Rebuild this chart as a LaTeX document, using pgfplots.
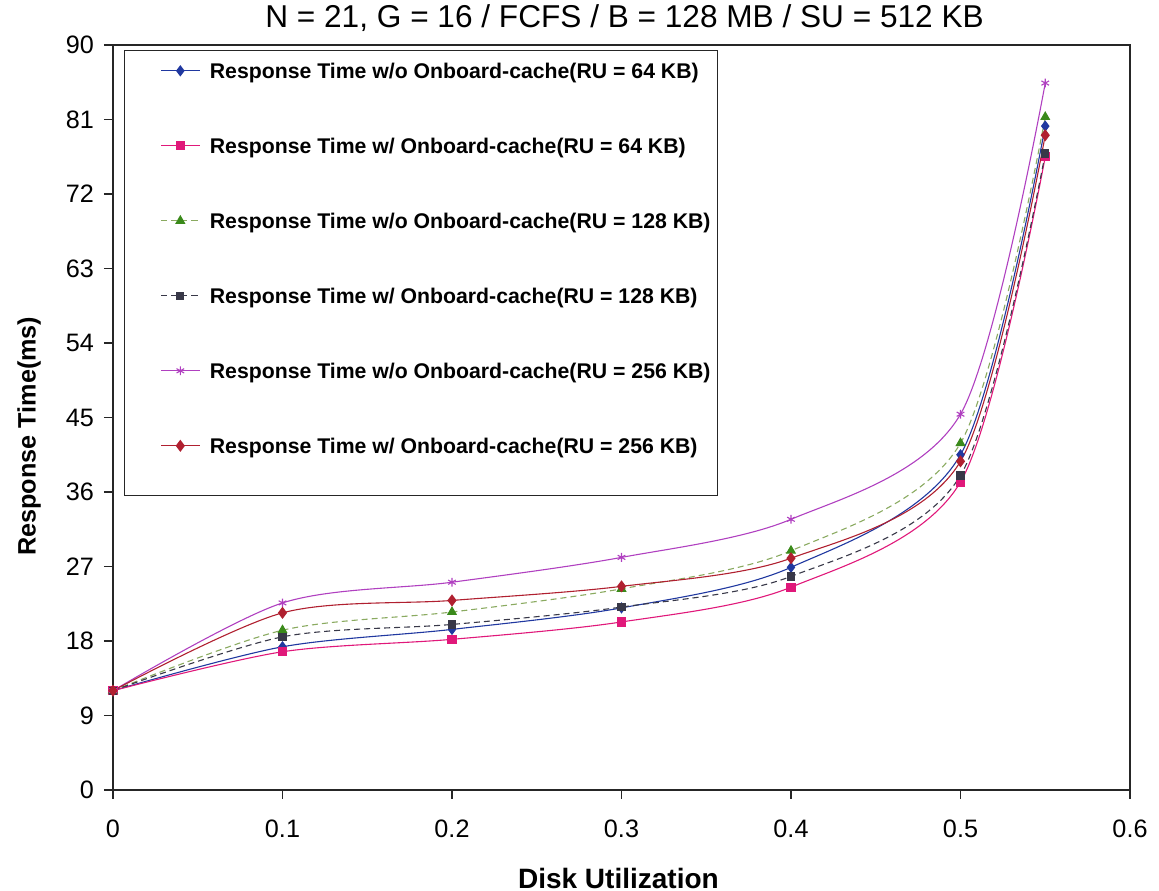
\documentclass[border=0pt]{standalone}
\usepackage{pgfplots}
\pgfplotsset{compat=1.18}
\usepackage{fontspec}
\setmainfont{Liberation Sans}
\definecolor{cBlue}{HTML}{2038A0}
\definecolor{cPink}{HTML}{E0187A}
\definecolor{cGreen}{HTML}{3A8A1A}
\definecolor{cGreenL}{HTML}{8AAA60}
\definecolor{cDark}{HTML}{383848}
\definecolor{cViolet}{HTML}{B040C0}
\definecolor{cRed}{HTML}{B02030}
\begin{document}
\begin{tikzpicture}
\begin{axis}[
  scale only axis,
  width=508.5pt, height=372.5pt,
  xmin=0, xmax=0.6, ymin=0, ymax=90,
  xtick={0,0.1,0.2,0.3,0.4,0.5,0.6},
  ytick={0,9,18,27,36,45,54,63,72,81,90},
  xticklabels={0,0.1,0.2,0.3,0.4,0.5,0.6},
  /pgf/number format/assume math mode=true,
  tick label style={font=\fontsize{12.6}{14}\selectfont},
  xticklabel style={yshift=-7pt},
  yticklabel style={xshift=-1.5pt},
  tick align=outside, xtick pos=bottom, ytick pos=left,
  major tick length=4.5pt,
  axis line style={line width=0.6pt, black!85},
  every tick/.style={line width=0.6pt, black!85},
  title={N = 21, G = 16 / FCFS / B = 128 MB / SU = 512 KB},
  every axis title/.style={font=\fontsize{15.8}{18}\selectfont, at={(axis description cs:0.503,1)}, anchor=center, yshift=13.5pt},
  xlabel={Disk Utilization},
  every axis x label/.style={font=\fontsize{14}{16}\selectfont\bfseries, at={(axis description cs:0.497,0)}, anchor=center, yshift=-44pt},
  ylabel={Response Time(ms)},
  every axis y label/.style={font=\fontsize{12.6}{15}\selectfont\bfseries, at={(axis description cs:0,0.475)}, rotate=90, anchor=center, yshift=42pt},
  legend image code/.code={\path (0pt,0pt) (38.5pt,0pt); \draw[mark repeat=2,mark phase=2,#1] plot coordinates {(15pt,3.75pt) (24.5pt,3.75pt) (34pt,3.75pt)};},
  legend style={at={(axis description cs:0.011,0.993)}, anchor=north west, draw=black!85, line width=0.6pt, fill=white,
    font=\fontsize{10.62}{12}\selectfont\bfseries, row sep=27.5pt, inner xsep=3pt, inner ysep=6.25pt,
    cells={anchor=base west},
    nodes={text height=7.5pt, text depth=2.5pt, inner ysep=0pt, inner xsep=0.5pt}},
  every axis plot/.append style={smooth, line width=0.55pt},
]
\addplot[cBlue, mark=diamond*, mark size=2.4pt, mark options={solid, fill=cBlue}] coordinates {
 (0,12) (0.1,17.3) (0.2,19.4) (0.3,22.0) (0.4,26.9) (0.5,40.5) (0.55,80.2)};
\addlegendentry{Response Time w/o Onboard-cache(RU = 64 KB)}
\addplot[cPink, mark=square*, mark size=2pt, mark options={solid, fill=cPink}] coordinates {
 (0,12) (0.1,16.7) (0.2,18.2) (0.3,20.3) (0.4,24.5) (0.5,37.2) (0.55,76.5)};
\addlegendentry{Response Time w/ Onboard-cache(RU = 64 KB)}
\addplot[cGreenL, densely dashed, mark=triangle*, mark size=2.4pt, mark options={solid, draw=cGreen, fill=cGreen}] coordinates {
 (0,12) (0.1,19.3) (0.2,21.5) (0.3,24.3) (0.4,28.9) (0.5,41.9) (0.55,81.3)};
\addlegendentry{Response Time w/o Onboard-cache(RU = 128 KB)}
\addplot[cDark, densely dashed, mark=square*, mark size=1.8pt, mark options={solid, fill=cDark}] coordinates {
 (0,12) (0.1,18.5) (0.2,20.0) (0.3,22.1) (0.4,25.8) (0.5,38.0) (0.55,76.9)};
\addlegendentry{Response Time w/ Onboard-cache(RU = 128 KB)}
\addplot[cViolet, mark=asterisk, mark size=2.2pt, mark options={solid}] coordinates {
 (0,12) (0.1,22.6) (0.2,25.1) (0.3,28.1) (0.4,32.7) (0.5,45.4) (0.55,85.4)};
\addlegendentry{Response Time w/o Onboard-cache(RU = 256 KB)}
\addplot[cRed, mark=diamond*, mark size=2.6pt, mark options={solid, fill=cRed}] coordinates {
 (0,12) (0.1,21.4) (0.2,22.9) (0.3,24.6) (0.4,28.0) (0.5,39.7) (0.55,79.1)};
\addlegendentry[text depth=15pt]{Response Time w/ Onboard-cache(RU = 256 KB)}
\end{axis}
\pgfresetboundingbox
\path ([shift={(-56.5pt,-50.5pt)}]current axis.south west) rectangle ([shift={(14.5pt,22.5pt)}]current axis.north east);
\end{tikzpicture}
\end{document}
